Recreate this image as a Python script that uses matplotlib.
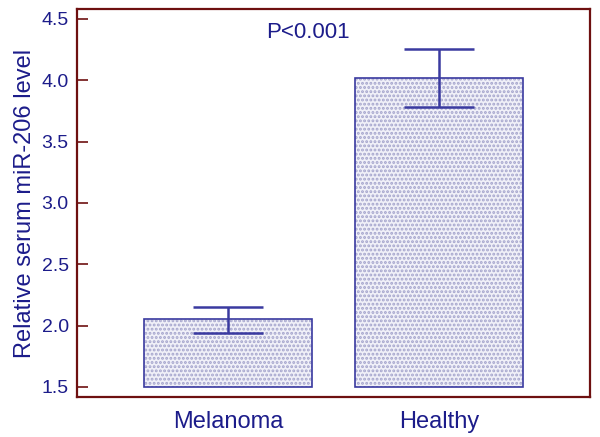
import matplotlib.pyplot as plt
import numpy as np

# 数据
groups = ["Melanoma", "Healthy"]
means = [2.05, 4.02]
err_low = [1.94, 3.78]
err_high = [2.15, 4.25]
yticks = [1.5, 2.0, 2.5, 3.0, 3.5, 4.0, 4.5]

navy = "#1c1c8a"
bar_edge = "#3a3aa0"
spine_red = "#6e1010"

plt.rcParams['font.family'] = ['Liberation Sans', 'DejaVu Sans']
plt.rcParams['hatch.linewidth'] = 1.4

fig = plt.figure(figsize=(6, 4.37), dpi=100)
ax = fig.add_axes([77 / 600, 1 - 397 / 437, (590 - 77) / 600, (397 - 9) / 437])

x = np.arange(len(groups))
base = 1.5
heights = [m - base for m in means]

# 点状填充
ax.bar(x, heights, width=0.8, bottom=base, color="#f0f0f8",
       edgecolor="#a4a4cc", hatch="....", linewidth=0, zorder=2)
ax.bar(x, heights, width=0.8, bottom=base, fill=False,
       edgecolor=bar_edge, linewidth=1.2, zorder=3)

# 误差线
yerr = np.array([[m - lo for m, lo in zip(means, err_low)],
                 [hi - m for m, hi in zip(means, err_high)]])
ax.errorbar(x, means, yerr=yerr, fmt='none', ecolor=bar_edge,
            elinewidth=1.8, capsize=25, capthick=1.8, zorder=4)

ax.text(0.38, 4.39, "P<0.001", color=navy, fontsize=16,
        ha='center', va='center')

ax.set_xlim(-0.716, 1.716)
ax.set_ylim(1.418, 4.58)
ax.set_yticks(yticks)
ax.set_yticklabels([f"{t:.1f}" for t in yticks])
ax.set_xticks(x)
ax.set_xticklabels(groups)
ax.set_ylabel("Relative serum miR-206 level", color=navy, fontsize=17, labelpad=4)

ax.tick_params(axis='y', direction='in', length=8, width=1.2, color=spine_red,
               labelcolor=navy, labelsize=14, pad=6)
ax.tick_params(axis='x', length=0, labelcolor=navy, labelsize=17, pad=10)

for s in ax.spines.values():
    s.set_color(spine_red)
    s.set_linewidth(1.6)

fig.savefig("out.png", dpi=100)
